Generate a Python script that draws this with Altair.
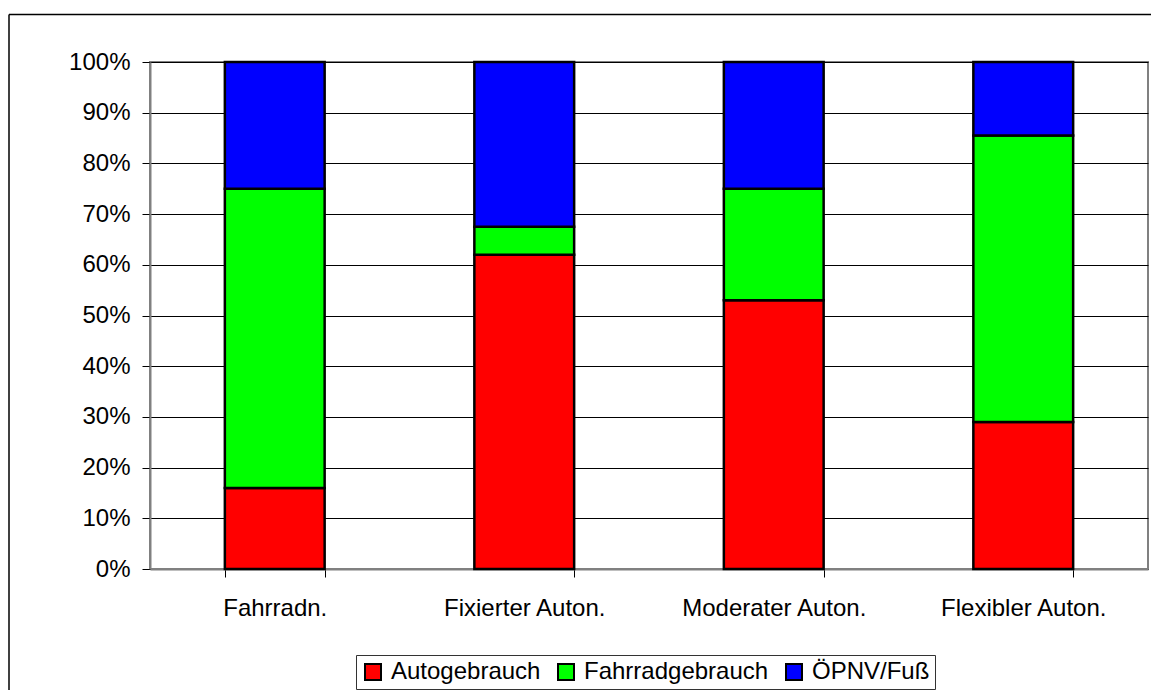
import altair as alt
import pandas as pd

categories = ["Fahrradn.", "Fixierter Auton.", "Moderater Auton.", "Flexibler Auton."]
series = ["Autogebrauch", "Fahrradgebrauch", "ÖPNV/Fuß"]
auto = [16, 62, 53, 29]
fahrrad = [59, 5.5, 22, 56.5]
oepnv = [25, 32.5, 25, 14.5]
colors = ["#FF0000", "#00FF00", "#0000FF"]
y_ticks = [0, 0.1, 0.2, 0.3, 0.4, 0.5, 0.6, 0.7, 0.8, 0.9, 1.0]

rows = []
for i, c in enumerate(categories):
    for j, (s, vals) in enumerate(zip(series, [auto, fahrrad, oepnv])):
        rows.append({"Kategorie": c, "Serie": s, "Wert": vals[i], "Ordnung": j})
df = pd.DataFrame(rows)

FONT = "Liberation Sans"

bars = alt.Chart(df).mark_bar(stroke="black", strokeWidth=2.5).encode(
    x=alt.X(
        "Kategorie:N",
        sort=categories,
        scale=alt.Scale(paddingInner=0.6, paddingOuter=0.3),
        axis=alt.Axis(title=None, labelAngle=0, tickBand="extent", labelPadding=19,
                      grid=False, labelLimit=0),
    ),
    y=alt.Y(
        "Wert:Q",
        stack="normalize",
        scale=alt.Scale(domain=[0, 1], nice=False),
        axis=alt.Axis(title=None, format=".0%", values=y_ticks, labelPadding=12,
                      grid=True, labelLimit=0),
    ),
    color=alt.Color(
        "Serie:N",
        sort=series,
        title=None,
        scale=alt.Scale(domain=series, range=colors),
        legend=alt.Legend(
            orient="none",
            legendX=206,
            legendY=593,
            direction="horizontal",
            symbolType="square",
            symbolSize=256,
            symbolStrokeColor="black",
            symbolStrokeWidth=2,
            symbolOpacity=1,
            labelFontSize=24,
            labelFont=FONT,
            labelColor="black",
            labelLimit=0,
            labelOffset=6,
            columnPadding=13,
            padding=5,
            strokeColor="#333333",
            fillColor="white",
        ),
    ),
    order=alt.Order("Ordnung:Q", sort="ascending"),
)

frame = pd.DataFrame({"r": [0]})
border_top = alt.Chart(frame).mark_rule(color="black", strokeWidth=1.5).encode(
    x=alt.value(-141), x2=alt.value(1001), y=alt.value(-47.5)
)
border_left = alt.Chart(frame).mark_rule(color="black", strokeWidth=1.5).encode(
    x=alt.value(-141), y=alt.value(-47.5), y2=alt.value(628)
)

chart = alt.layer(border_top, border_left, bars).properties(
    width=998,
    height=507,
    autosize=alt.AutoSizeParams(type="none"),
    padding={"left": 142, "top": 54, "right": 3, "bottom": 121},
    background="white",
).configure_view(
    stroke="#808080", strokeWidth=2
).configure_axis(
    labelFont=FONT,
    labelFontSize=24,
    labelColor="black",
    domainColor="#808080",
    domainWidth=2,
    tickColor="black",
    tickSize=8,
    tickWidth=1,
    gridColor="black",
    gridWidth=1,
)

chart.save("out.html", embed_options={"renderer": "svg", "actions": False})
